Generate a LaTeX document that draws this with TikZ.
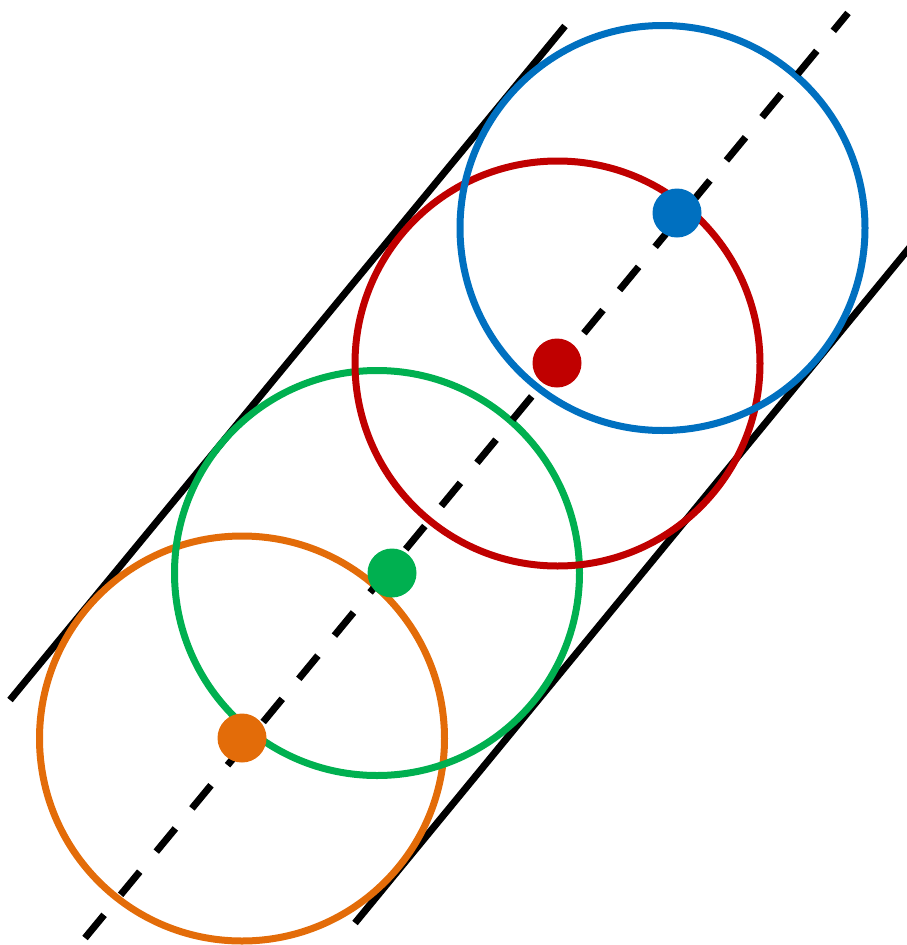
\documentclass[tikz,border=0pt]{standalone}
\definecolor{cblue}{HTML}{0070C0}
\definecolor{cred}{HTML}{C00000}
\definecolor{cgreen}{HTML}{00B050}
\definecolor{corange}{HTML}{E36C09}
\begin{document}
\begin{tikzpicture}[x=1pt,y=-1pt,
  ring/.style={draw, circle, inner sep=0pt, minimum size=405pt, line width=7pt},
  rail/.style={line width=7pt, draw=black, line cap=butt},
  axisline/.style={line width=7pt, draw=black, dash pattern=on 30pt off 26pt},
  dot/.style={circle, inner sep=0pt, minimum size=49pt}]
\useasboundingbox (0,0) rectangle (907,945);
% rails
\coordinate (l1) at (10,700);
\coordinate (l2) at (565,26);
\coordinate (r1) at (355,923);
\coordinate (r2) at (915,241);
\draw[rail] (l1) -- (l2);
\draw[rail] (r1) -- (r2);
% circles
\node[ring, draw=corange] (co) at (242,738.5) {};
\node[ring, draw=cgreen] (cg) at (377,573) {};
\node[ring, draw=cred] (cr) at (557.5,363.5) {};
\node[ring, draw=cblue] (cb) at (662.5,228) {};
% dashed axis
\coordinate (a1) at (85,938);
\coordinate (a2) at (848,13);
\draw[axisline] (a1) -- (a2);
% dots
\node[dot, fill=corange] (do) at (242,738) {};
\node[dot, fill=cgreen] (dg) at (392,573) {};
\node[dot, fill=cred] (dr) at (557,363) {};
\node[dot, fill=cblue] (db) at (677,213) {};
\end{tikzpicture}
\end{document}
